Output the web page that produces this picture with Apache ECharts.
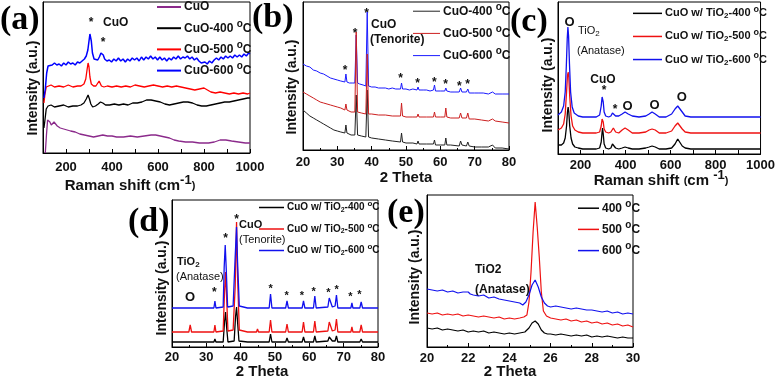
<!DOCTYPE html>
<html>
<head>
<meta charset="utf-8">
<script src="https://cdn.jsdelivr.net/npm/echarts@6.0.0/dist/echarts.min.js"></script>
<style>
html, body { margin: 0; padding: 0; background: #fff; }
#chart { width: 778px; height: 380px; }
</style>
</head>
<body>
<div id="chart"></div>
<script>
// (a) Raman, CuO films
var aPurple = [[110,0],[115,18],[120,33],[125,35],[130,31],[136,28],[142,30],[148,31],[154,29],[162,27],[175,25],[190,24],[205,23],[220,22],[240,21],[260,19],[280,18],[300,17],[320,16],[340,17],[360,18],[380,17],[400,17],[420,16],[450,16],[480,17],[510,16],[540,17],[570,18],[590,18],[610,17],[630,16],[650,15],[670,13],[690,12],[720,11],[750,11],[780,10],[800,10],[820,10],[845,11],[870,13],[895,13],[920,12],[950,11],[980,10],[1000,10]];
var aBlack = [[104,25],[108,32],[114,44],[122,47],[135,48],[150,46],[170,47],[190,48],[210,46],[230,47],[250,47],[265,48],[278,50],[288,54],[296,58],[302,54],[308,49],[316,46],[328,47],[340,49],[350,51],[360,50],[372,48],[390,48],[410,49],[430,48],[450,49],[470,48],[490,50],[510,50],[530,51],[550,53],[570,53],[590,52],[610,51],[630,49],[650,48],[670,49],[690,50],[710,51],[730,51],[750,50],[770,48],[790,47],[810,47],[830,48],[850,49],[870,50],[890,51],[910,51],[930,52],[950,53],[970,54],[990,55],[1000,55]];
var aRed = [[104,50],[108,58],[114,66],[122,67],[135,68],[150,66],[170,67],[190,66],[210,68],[230,66],[250,67],[265,67],[278,69],[286,74],[292,84],[296,90],[300,86],[304,76],[310,69],[320,67],[330,67],[338,69],[344,72],[348,70],[354,67],[365,66],[380,67],[400,66],[420,67],[440,66],[460,67],[480,66],[500,68],[520,67],[540,66],[560,67],[580,68],[600,67],[620,66],[640,67],[660,66],[680,67],[700,66],[720,65],[740,64],[760,63],[780,64],[800,65],[815,63],[830,61],[850,60],[870,61],[890,60],[910,59],[930,60],[950,59],[970,60],[990,59],[1000,60]];
var aBlue = [[104,55],[110,64],[116,80],[122,87],[130,89],[140,88],[150,90],[160,88],[170,89],[180,87],[190,90],[200,88],[210,91],[220,89],[230,90],[240,88],[250,91],[260,90],[270,92],[280,94],[288,97],[295,103],[300,112],[304,119],[307,121],[310,112],[315,100],[322,94],[330,92],[338,93],[345,96],[352,100],[357,101],[362,98],[368,94],[378,92],[388,93],[398,91],[408,94],[418,92],[428,95],[438,92],[448,94],[458,91],[468,94],[478,92],[488,95],[498,93],[508,95],[518,92],[528,96],[538,93],[548,96],[558,94],[568,97],[578,94],[588,96],[598,93],[608,96],[618,93],[628,95],[638,92],[648,95],[658,93],[668,96],[678,94],[688,97],[698,94],[708,96],[718,95],[728,97],[738,94],[748,96],[758,93],[768,95],[778,92],[788,90],[796,88],[804,91],[814,89],[824,92],[834,90],[844,93],[854,95],[864,93],[874,96],[884,94],[894,97],[904,95],[914,97],[924,95],[934,98],[944,96],[954,98],[964,96],[974,99],[984,97],[994,100],[1000,99]];

// (b) XRD, CuO films
var bBlack = [[20,40],[21,37],[22,34],[23,32],[24,30],[25,28],[26,26],[27,24],[28,22],[29,20],[30,19],[31,18],[32.2,17],[32.5,25],[32.8,17],[34,15],[35.1,15],[35.5,55],[35.9,15],[37,14],[38.3,13],[38.7,60],[39.1,13],[40,12],[42,11],[44,10],[46,9],[48.4,8],[48.7,17],[49,8],[50,7],[52,7],[53.2,6],[53.5,9],[53.8,6],[56,6],[58,6],[58.3,10],[58.6,5],[60,5],[61.3,5],[61.6,12],[61.9,5],[63,5],[65.5,4],[65.9,9],[66.3,5],[67.6,4],[68,8],[68.4,4],[70,3],[72,3],[74,3],[75.2,5],[76,2],[78,2],[80,1]];
var bRed = [[20,58],[21,56],[22,54],[23,52],[24,50],[25,48],[26,47],[27,46],[28,45],[29,44],[30,43],[31,42],[32.2,40],[32.5,46],[32.8,40],[34,38],[35.1,38],[35.5,118],[35.9,38],[37,37],[38.3,36],[38.7,96],[39.1,36],[40,36],[42,35],[44,35],[46,34],[48.4,34],[48.7,47],[49,34],[50,33],[52,33],[53.2,33],[53.5,36],[53.8,33],[56,33],[58,33],[58.3,38],[58.6,33],[60,33],[61.3,33],[61.6,42],[61.9,33],[63,32],[65.5,32],[65.9,37],[66.3,32],[67.6,32],[68,37],[68.4,31],[70,31],[72,30],[74,29],[75.2,31],[76,29],[78,28],[80,27]];
var bBlue = [[20,86],[21,84],[22,83],[23,80],[24,79],[25,77],[26,76],[27,74],[28,72],[29,71],[30,70],[31,69],[32.2,68],[32.5,76],[32.8,68],[33.5,67],[34.5,67],[35.1,67],[35.5,115],[35.9,67],[36.5,66],[37.5,65],[38.3,64],[38.7,138],[39.1,64],[40,63],[41,63],[42,62],[43,62],[44,62],[45,61],[46,62],[47,61],[48.4,61],[48.7,67],[49,61],[50,61],[51,60],[52,61],[53.2,60],[53.5,63],[53.8,60],[55,60],[56,60],[57,59],[58,60],[58.3,65],[58.6,59],[60,59],[61.3,59],[61.6,62],[61.9,59],[63,58],[64,58],[65.5,58],[65.9,62],[66.3,58],[67.6,58],[68,61],[68.4,57],[70,57],[71,57],[72.5,57],[74,56],[75.2,58],[76,56],[78,56],[80,56]];

// (c) Raman, CuO w/ TiO2
var cBlack = [[100,9],[115,9],[125,11],[132,16],[138,28],[142,42],[145,47],[148,42],[152,28],[158,16],[165,10],[175,7],[190,6],[210,5],[240,5],[270,5],[285,6],[292,12],[296,22],[298,26],[301,20],[305,10],[312,6],[325,5],[335,6],[342,10],[346,12],[350,10],[356,6],[370,5],[385,6],[398,7],[412,6],[430,5],[460,5],[490,6],[505,7],[518,8],[532,7],[550,5],[580,5],[605,6],[620,10],[632,15],[640,14],[652,8],[665,6],[690,5],[750,5],[850,5],[1000,5]];
var cRed = [[100,24],[115,26],[125,30],[132,40],[138,62],[142,78],[145,82],[148,77],[152,58],[158,38],[165,28],[175,24],[190,22],[210,21],[240,21],[270,21],[285,22],[292,28],[296,35],[298,37],[301,32],[305,25],[312,22],[325,21],[335,22],[342,24],[346,26],[350,24],[356,22],[370,21],[385,24],[398,26],[412,24],[430,21],[460,21],[490,22],[505,24],[518,25],[532,24],[550,21],[580,21],[605,23],[620,28],[632,31],[640,30],[652,25],[665,22],[690,21],[750,21],[850,21],[1000,21]];
var cBlue = [[100,39],[115,42],[125,48],[132,62],[137,88],[141,115],[144,127],[147,118],[151,90],[156,62],[163,47],[172,41],[190,38],[210,37],[240,37],[270,37],[285,39],[292,48],[296,57],[298,59],[301,52],[305,42],[312,38],[325,37],[335,38],[342,41],[346,42],[350,40],[356,38],[370,38],[385,40],[398,42],[412,40],[430,38],[460,37],[490,38],[505,40],[518,42],[532,40],[550,37],[580,37],[605,40],[620,45],[632,48],[640,47],[652,42],[665,38],[690,37],[750,37],[850,37],[1000,37]];

// (d) XRD, CuO w/ TiO2
var dBlack = [[20,5],[24.9,5],[25.3,6],[25.7,5],[30,5],[32.2,5],[32.5,8],[32.8,5],[34.9,5],[35.3,25],[35.6,35],[35.9,20],[36.3,5],[38.1,6],[38.5,30],[38.8,40],[39.1,25],[39.5,6],[42,5],[44.6,5],[44.9,7],[45.2,5],[46.3,5],[46.5,6],[46.8,5],[48.3,5],[48.7,13],[49.1,5],[53.1,5],[53.5,9],[53.9,5],[57.9,5],[58.3,10],[58.7,5],[61.2,5],[61.6,11],[62,5],[65.4,6],[65.8,10],[66.3,9],[66.7,6],[67.5,6],[67.9,11],[68.3,5],[72.1,5],[72.4,7],[72.7,5],[74.7,5],[75.1,8],[75.5,5],[80,5]];
var dRed = [[20,15],[24.9,15],[25.3,22],[25.7,15],[30,15],[32.2,15],[32.5,22],[32.8,15],[34.9,16],[35.3,55],[35.6,75],[35.9,50],[36.3,16],[37.8,17],[38.4,60],[38.8,125],[39.1,70],[39.6,17],[42,15],[44.6,15],[44.9,18],[45.2,15],[46.3,15],[46.5,17],[46.8,15],[48.3,15],[48.7,27],[49.1,15],[53.1,15],[53.5,23],[53.9,15],[57.9,15],[58.3,25],[58.7,15],[61.2,15],[61.6,26],[62,15],[65.4,16],[65.8,25],[66.3,23],[66.7,16],[67.5,17],[67.9,28],[68.3,15],[72.1,15],[72.4,20],[72.7,15],[74.7,15],[75.1,22],[75.5,15],[80,15]];
var dBlue = [[20,39],[24.9,39],[25.3,41],[25.7,39],[30,39],[32.2,39],[32.5,46],[32.8,39],[34.9,40],[35.2,80],[35.5,102],[35.8,78],[36.2,40],[37.8,41],[38.4,90],[38.8,120],[39.1,85],[39.6,41],[42,39],[44.6,39],[44.9,40],[45.2,39],[48.3,39],[48.7,53],[49.1,39],[53.1,39],[53.5,46],[53.9,39],[57.9,39],[58.3,46],[58.7,39],[61.2,39],[61.6,51],[62,39],[65.4,40],[65.8,49],[66.3,47],[66.7,40],[67.5,41],[67.9,52],[68.3,39],[72.1,39],[72.4,44],[72.7,39],[74.7,39],[75.1,45],[75.5,39],[80,39]];

// (e) XRD zoom on anatase (101)
var eBlack = [[20,19],[20.25,18],[20.5,19],[20.75,17],[21,18],[21.25,17],[21.5,16],[21.75,17],[22,15],[22.25,16],[22.5,15],[22.75,16],[23,14],[23.25,15],[23.5,14],[23.75,13],[24,14],[24.25,13],[24.5,14],[24.75,15],[24.95,19],[25.1,24],[25.25,26],[25.4,23],[25.55,17],[25.7,14],[25.85,13],[26,13],[26.25,12],[26.5,13],[26.75,12],[27,11],[27.25,12],[27.5,11],[27.75,12],[28,10],[28.25,11],[28.5,10],[28.75,11],[29,10],[29.25,9],[29.5,10],[29.75,9],[30,9]];
var eRed = [[20,34],[20.25,33],[20.5,34],[20.75,32],[21,33],[21.25,32],[21.5,33],[21.75,31],[22,32],[22.25,31],[22.5,30],[22.75,31],[23,30],[23.25,29],[23.5,30],[23.75,28],[24,29],[24.25,28],[24.5,29],[24.7,30],[24.85,32],[24.95,45],[25.05,75],[25.15,115],[25.25,145],[25.35,120],[25.45,90],[25.55,55],[25.65,36],[25.8,31],[26,29],[26.25,28],[26.5,27],[26.75,28],[27,26],[27.25,27],[27.5,25],[27.75,26],[28,24],[28.25,25],[28.5,23],[28.75,24],[29,22],[29.25,23],[29.5,21],[29.75,22],[30,20]];
var eBlue = [[20,58],[20.25,57],[20.5,56],[20.75,57],[21,55],[21.25,56],[21.5,54],[21.75,55],[22,55],[22.1,53],[22.25,52],[22.5,51],[22.75,52],[23,49],[23.25,50],[23.5,48],[23.75,47],[24,46],[24.25,45],[24.5,44],[24.65,42],[24.8,45],[24.95,52],[25.1,62],[25.25,67],[25.4,60],[25.55,50],[25.7,44],[25.85,41],[26,40],[26.25,41],[26.5,40],[26.75,39],[27,38],[27.25,39],[27.5,38],[27.75,37],[28,37],[28.25,36],[28.5,35],[28.75,36],[29,34],[29.25,35],[29.5,33],[29.75,34],[30,33]];

var aNames = ['CuO', 'CuO-400 °C', 'CuO-500 °C', 'CuO-600 °C'];
var bNames = ['CuO-400 °C', 'CuO-500 °C', 'CuO-600 °C'];
var cNames = ['CuO w/ TiO2-400 °C', 'CuO w/ TiO2-500 °C', 'CuO w/ TiO2-600 °C'];
var eNames = ['400 °C', '500 °C', '600 °C'];

var SANS = '"Liberation Sans", Arial, sans-serif';
var SERIF = '"Liberation Serif", "Times New Roman", serif';

// turn "°C" and "TiO2" into rich text tokens
function toRich(s) {
    return '{t|' + s.replace('TiO2', 'TiO}{b|2}{t|').replace('°C', '}{s|o}{t|C') + '}';
}
function richStyles(fs, weight) {
    return {
        t: { fontFamily: SANS, fontWeight: weight, fontSize: fs, color: '#111' },
        s: { fontFamily: SANS, fontWeight: weight, fontSize: fs - 2, color: '#111', padding: [0, 0, fs * 0.7, 0] },
        b: { fontFamily: SANS, fontWeight: weight, fontSize: fs - 3, color: '#111', padding: [fs * 0.5, 0, 0, 0] },
        p: { fontFamily: SANS, fontWeight: weight, fontSize: fs - 4, color: '#111' }
    };
}

var grids = [
    { left: 43, top: 2, width: 207, height: 151 },
    { left: 303, top: 2, width: 206, height: 148 },
    { left: 558, top: 2, width: 207, height: 152 },
    { left: 172, top: 200, width: 206, height: 147 },
    { left: 427, top: 195, width: 206, height: 152 }
];
var yMax = [151, 148, 152, 147, 152];

function xAxisFor(i, min, max, interval, minor, every, margin) {
    return {
        gridIndex: i, type: 'value', min: min, max: max, interval: interval,
        axisLine: { onZero: false, lineStyle: { color: '#000', width: 1 } },
        axisTick: { inside: true, length: 4, lineStyle: { color: '#000' } },
        minorTick: { show: minor > 0, splitNumber: minor || 5, length: 2, lineStyle: { color: '#000' } },
        splitLine: { show: false },
        axisLabel: {
            margin: margin, color: '#111', fontFamily: SANS, fontWeight: 'bold', fontSize: 13,
            formatter: function (v) { return (every && v % every !== 0) || v === min && every ? '' : String(v); }
        }
    };
}
function yAxisFor(i) {
    return {
        gridIndex: i, type: 'value', min: 0, max: yMax[i],
        axisLine: { show: true, lineStyle: { color: '#000' } },
        axisTick: { show: false }, axisLabel: { show: false }, splitLine: { show: false }
    };
}

function line(i, key, name, data, color, w) {
    return {
        type: 'line', name: key + ':' + name, xAxisIndex: i, yAxisIndex: i, data: data,
        symbol: 'none', showSymbol: false, silent: true,
        lineStyle: { color: color, width: w }, itemStyle: { color: color }
    };
}

var series = [
    line(0, 'a', aNames[0], aPurple, '#8b2a8b', 1.3),
    line(0, 'a', aNames[1], aBlack, '#000000', 1.3),
    line(0, 'a', aNames[2], aRed, '#ff0000', 1.3),
    line(0, 'a', aNames[3], aBlue, '#0000ff', 1.5),
    line(1, 'b', bNames[0], bBlack, '#222222', 1),
    line(1, 'b', bNames[2], bBlue, '#1a1aff', 1),
    line(1, 'b', bNames[1], bRed, '#cc1f1f', 1),
    line(2, 'c', cNames[0], cBlack, '#000000', 1.3),
    line(2, 'c', cNames[1], cRed, '#ee1111', 1.3),
    line(2, 'c', cNames[2], cBlue, '#1111ee', 1.3),
    line(3, 'd', cNames[0], dBlack, '#000000', 1.3),
    line(3, 'd', cNames[1], dRed, '#ee1111', 1.3),
    line(3, 'd', cNames[2], dBlue, '#1111ee', 1.3),
    line(4, 'e', eNames[0], eBlack, '#000000', 1.2),
    line(4, 'e', eNames[1], eRed, '#ee1111', 1.2),
    line(4, 'e', eNames[2], eBlue, '#1111ee', 1.2)
];

function legendFor(key, names, left, top, w, gap, fs, thick) {
    return {
        orient: 'vertical', left: left, top: top, itemWidth: w, itemHeight: thick, itemGap: gap,
        icon: 'rect', selectedMode: false, padding: 0,
        data: names.map(function (n) { return key + ':' + n; }),
        formatter: function (n) { return toRich(n.slice(2)); },
        textStyle: { rich: richStyles(fs, 'bold'), padding: [0, 0, 0, -2] }
    };
}

function txt(x, y, text, fs, weight, align) {
    return {
        type: 'text', x: x, y: y, silent: true,
        style: {
            text: text, rich: richStyles(fs, weight || 'bold'),
            font: (weight || 'bold') + ' ' + fs + 'px ' + SANS, fill: '#111',
            align: align || 'center', verticalAlign: 'middle'
        }
    };
}
function ytitle(x, y) {
    var t = txt(x, y, '{t|Intensity (a.u.)}', 14, 'bold');
    t.rotation = Math.PI / 2;
    return t;
}
function panel(x, y, s) {
    return {
        type: 'text', x: x, y: y, silent: true,
        style: { text: s, font: 'bold 34px ' + SERIF, fill: '#000', align: 'left', verticalAlign: 'middle' }
    };
}
function star(x, y, fs) { return txt(x, y + 3, '{t|*}', fs || 12, 'bold'); }
function ring(x, y) { return txt(x, y, '{t|O}', 13, 'bold'); }

var graphics = [
    panel(0, 20, '(a)'), panel(252, 18, '(b)'), panel(510, 22, '(c)'), panel(128, 222, '(d)'), panel(387, 213, '(e)'),
    ytitle(33, 88), ytitle(292, 87), ytitle(548, 85), ytitle(162, 288), ytitle(415, 277),
    txt(130, 186, '{t|Raman shift }{p|(}{t|cm}{s|-1}{p|)}', 15, 'bold'),
    txt(406, 178, '{t|2 Theta}', 15, 'bold'),
    txt(661, 181, '{t|Raman shift }{p|(}{t|cm }{s|-1}{p|)}', 15, 'bold'),
    txt(262, 372, '{t|2 Theta}', 15, 'bold'),
    txt(510, 372, '{t|2 Theta}', 15, 'bold'),
    // (a)
    star(91, 20), txt(103, 23, '{t|CuO}', 12, 'bold', 'left'), star(103, 40),
    // (b)
    star(345, 68), star(355, 31), star(366.7, 11), star(400.7, 76), star(417.7, 81),
    star(434.3, 80), star(445.7, 82), star(459.3, 84), star(467.7, 82),
    txt(371, 25, '{t|CuO}', 12, 'bold', 'left'), txt(370, 40, '{t|(Tenorite)}', 12, 'bold', 'left'),
    // (c)
    ring(569.5, 22), txt(578, 31, '{t|TiO}{b|2}', 11, 'normal', 'left'), txt(577, 51, '{t|(Anatase)}', 11, 'normal', 'left'),
    txt(603, 80, '{t|CuO}', 12, 'bold'), star(604, 88), star(615, 107),
    ring(627.5, 106), ring(654.5, 105.5), ring(681.7, 97.5),
    // (d)
    txt(177, 262, '{t|TiO}{b|2}', 11, 'bold', 'left'), txt(176, 277, '{t|(Anatase)}', 11, 'normal', 'left'),
    ring(190, 297.5), star(214.3, 290), star(225.7, 236), star(236.7, 216.5),
    txt(239, 225, '{t|CuO}', 11, 'bold', 'left'), txt(239, 240, '{t|(Tenorite)}', 11, 'normal', 'left'),
    star(270.7, 286, 11), star(286.7, 293, 11), star(302, 293, 11), star(313.7, 289, 11),
    star(328.3, 290, 11), star(336.7, 286.5, 11), star(350.3, 294, 11), star(359.3, 291.5, 11),
    // (e)
    txt(475, 270, '{t|TiO2}', 12, 'bold', 'left'), txt(475, 290, '{t|(Anatase)}', 12, 'bold', 'left')
];

var chart = echarts.init(document.getElementById('chart'));
chart.setOption({
    animation: false,
    backgroundColor: '#fff',
    grid: grids.map(function (g) {
        return { left: g.left, top: g.top, width: g.width, height: g.height, show: true, borderColor: '#000', borderWidth: 1, backgroundColor: 'transparent' };
    }),
    xAxis: [
        xAxisFor(0, 100, 1000, 100, 0, 200, 8),
        xAxisFor(1, 20, 80, 10, 2, 0, 6),
        xAxisFor(2, 100, 1000, 100, 0, 200, 5),
        xAxisFor(3, 20, 80, 10, 2, 0, 4),
        xAxisFor(4, 20, 30, 2, 2, 0, 5)
    ],
    yAxis: [yAxisFor(0), yAxisFor(1), yAxisFor(2), yAxisFor(3), yAxisFor(4)],
    legend: [
        legendFor('a', aNames, 157, 1, 24, 6, 12, 2),
        legendFor('b', bNames, 413, 2, 27, 7, 12, 1),
        legendFor('c', cNames, 633, 5, 29, 8, 11, 1.5),
        legendFor('d', cNames, 259, 200, 25, 8, 10, 1.5),
        legendFor('e', eNames, 578, 199, 21, 6, 12, 1.5)
    ],
    series: series,
    graphic: graphics
});
</script>
</body>
</html>
